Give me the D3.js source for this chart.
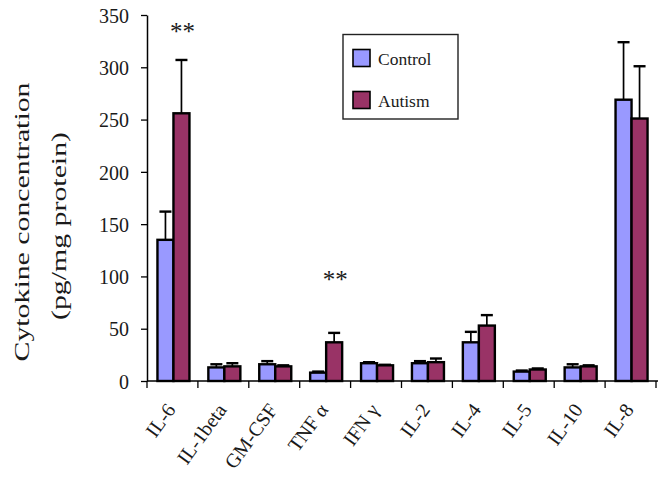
<!DOCTYPE html>
<html>
<head>
<meta charset="utf-8">
<script src="https://cdn.jsdelivr.net/npm/d3@7"></script>
<style>
  html, body { margin: 0; padding: 0; background: #fff; }
  svg { display: block; }
  text { font-family: "Liberation Serif", "Times New Roman", serif; fill: #1a1a1a; }
</style>
</head>
<body>
<div id="chart"></div>
<script>
// ---- data ----
const categories = ["IL-6", "IL-1beta", "GM-CSF", "TNF α", "IFN γ", "IL-2", "IL-4", "IL-5", "IL-10", "IL-8"];
const seriesNames = ["Control", "Autism"];
const controlValues = [135, 13, 16, 8, 17, 17, 37, 9, 13, 269];
const controlErrors = [27, 3, 3, 1, 1, 2, 10, 1, 3, 55];
const autismValues = [256, 14, 14, 37, 15, 18, 53, 11, 14, 251];
const autismErrors = [51, 3, 1, 9, 0.5, 3.5, 10, 1, 1, 50];
const yTicks = [0, 50, 100, 150, 200, 250, 300, 350];
const significant = ["IL-6", "TNF α"];
const yTitleLines = ["Cytokine concentration", "(pg/mg protein)"];

// ---- layout ----
const W = 658, H = 479;
const colors = { Control: "#9999ff", Autism: "#993366" };

const svg = d3.select("#chart").append("svg").attr("width", W).attr("height", H);

const y = d3.scaleLinear().domain([0, 350]).range([381, 15]);
const x = d3.scaleBand().domain(categories).range([147, 656]).padding(0);
const groupW = 32;
const xs = d3.scaleBand().domain(seriesNames)
  .range([(x.bandwidth() - groupW) / 2 + 1, (x.bandwidth() + groupW) / 2 + 1]).padding(0);

const rows = categories.map((c, i) => ({
  cat: c,
  vals: [
    { s: "Control", v: controlValues[i], e: controlErrors[i] },
    { s: "Autism", v: autismValues[i], e: autismErrors[i] }
  ]
}));

// bars
const groups = svg.append("g").selectAll("g").data(rows).join("g")
  .attr("transform", d => `translate(${x(d.cat)},0)`);

groups.selectAll("rect").data(d => d.vals).join("rect")
  .attr("x", d => xs(d.s))
  .attr("width", xs.bandwidth())
  .attr("y", d => y(d.v))
  .attr("height", d => y(0) - y(d.v))
  .attr("fill", d => colors[d.s])
  .attr("stroke", "#000")
  .attr("stroke-width", 2.4);

// error bars (upper only)
const capW = 12;
const eb = groups.selectAll("g.err").data(d => d.vals).join("g").attr("class", "err");
eb.append("line")
  .attr("x1", d => xs(d.s) + xs.bandwidth() / 2)
  .attr("x2", d => xs(d.s) + xs.bandwidth() / 2)
  .attr("y1", d => y(d.v))
  .attr("y2", d => y(d.v + d.e))
  .attr("stroke", "#000").attr("stroke-width", 1.7);
eb.append("line")
  .attr("x1", d => xs(d.s) + xs.bandwidth() / 2 - capW / 2)
  .attr("x2", d => xs(d.s) + xs.bandwidth() / 2 + capW / 2)
  .attr("y1", d => y(d.v + d.e))
  .attr("y2", d => y(d.v + d.e))
  .attr("stroke", "#000").attr("stroke-width", 2.4);

// y axis
const yAxis = svg.append("g").attr("transform", "translate(147,0)")
  .call(d3.axisLeft(y).tickValues(yTicks).tickSize(6).tickSizeOuter(0).tickPadding(12));
yAxis.select(".domain").attr("stroke", "#000").attr("stroke-width", 1.5);
yAxis.selectAll(".tick line").attr("stroke", "#000").attr("stroke-width", 1.3);
yAxis.selectAll(".tick text")
  .style("font-family", '"Liberation Serif", serif')
  .style("font-size", "20px").attr("fill", "#1a1a1a").attr("dy", "0.36em");

// x axis line & boundary ticks
const xAxisG = svg.append("g");
xAxisG.append("line")
  .attr("x1", x.range()[0]).attr("x2", W)
  .attr("y1", y(0)).attr("y2", y(0))
  .attr("stroke", "#000").attr("stroke-width", 1.5);
const bounds = categories.map(c => x(c)).concat([x.range()[1]]);
xAxisG.selectAll("line.bt").data(bounds).join("line").attr("class", "bt")
  .attr("x1", d => d).attr("x2", d => d)
  .attr("y1", y(0)).attr("y2", y(0) + 7)
  .attr("stroke", "#000").attr("stroke-width", 1.3);

// x labels
xAxisG.selectAll("text.xl").data(categories).join("text").attr("class", "xl")
  .attr("transform", d => `translate(${x(d) + x.bandwidth() / 2 + 4},410) rotate(-54)`)
  .attr("text-anchor", "end")
  .style("font-size", "20px")
  .text(d => d);

// y title
const yt = svg.append("g");
yt.selectAll("text").data(yTitleLines).join("text")
  .attr("transform", (d, i) => `translate(${i === 0 ? 29 : 66},${i === 0 ? 222 : 226}) rotate(-90)`)
  .attr("text-anchor", "middle")
  .attr("textLength", (d, i) => i === 0 ? 279 : 188)
  .attr("lengthAdjust", "spacingAndGlyphs")
  .style("font-size", "20px")
  .text(d => d);

// significance markers
svg.selectAll("text.sig").data(significant).join("text").attr("class", "sig")
  .attr("x", d => x(d) + x.bandwidth() / 2 + 10)
  .attr("y", d => y(autismValues[categories.indexOf(d)] + autismErrors[categories.indexOf(d)]) - (d === "IL-6" ? 20 : 45))
  .attr("text-anchor", "middle")
  .style("font-size", "25px")
  .attr("fill", "#555")
  .text("**");

// legend
const lg = svg.append("g");
lg.append("rect").attr("x", 343).attr("y", 34.5).attr("width", 115).attr("height", 84.5)
  .attr("fill", "#fff").attr("stroke", "#222").attr("stroke-width", 1.4);
const li = lg.selectAll("g.li").data(seriesNames).join("g").attr("class", "li")
  .attr("transform", (d, i) => `translate(353,${49.5 + i * 42})`);
li.append("rect").attr("width", 17).attr("height", 17)
  .attr("fill", d => colors[d]).attr("stroke", "#000").attr("stroke-width", 1.6);
li.append("text").attr("x", 25).attr("y", 15.5)
  .style("font-size", "17.5px").text(d => d);
</script>
</body>
</html>
